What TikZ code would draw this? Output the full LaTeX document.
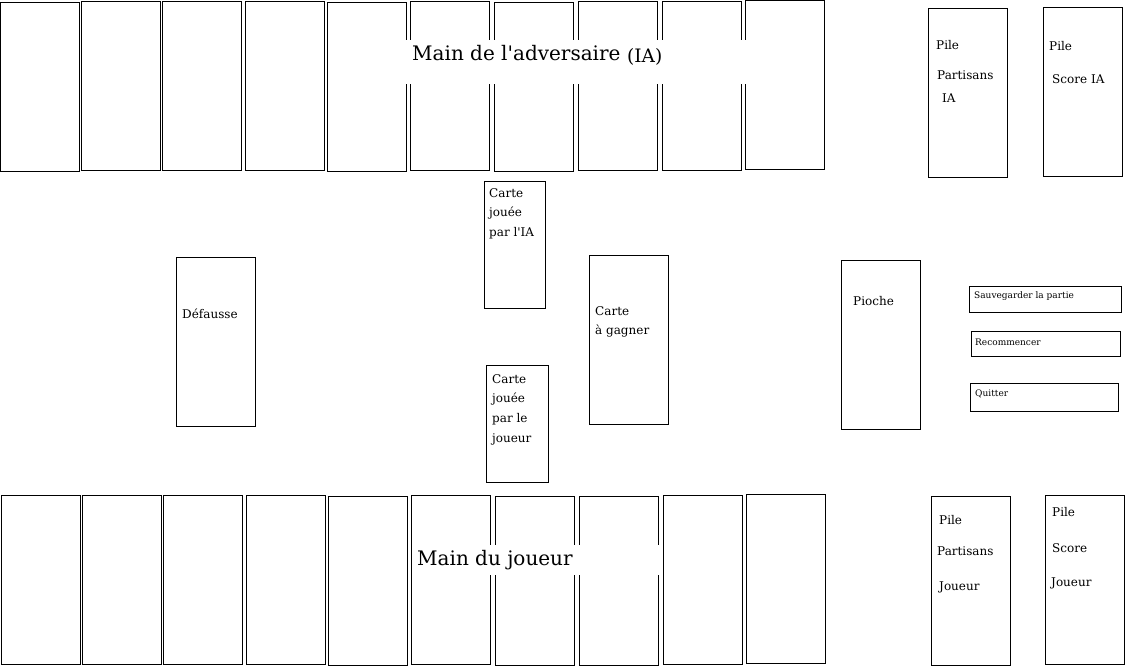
\documentclass[tikz,border=0pt]{standalone}
\usepackage{fontspec}
\setmainfont{DejaVu Serif}
\usetikzlibrary{positioning}

\tikzset{
  carte/.style={rectangle, draw, line width=0.8pt, minimum width=79pt, minimum height=169pt, inner sep=0pt, outer sep=0pt},
  bouton/.style={rectangle, draw, line width=0.8pt, inner sep=0pt, outer sep=0pt},
  etiq/.style={anchor=west, inner sep=0pt, font=\fontsize{12}{14}\selectfont},
  petit/.style={anchor=west, inner sep=0pt, font=\fontsize{9}{11}\selectfont},
  titre/.style={anchor=base west, inner sep=0pt, font=\fontsize{20}{24}\selectfont},
}

\begin{document}
\begin{tikzpicture}[x=1pt, y=-1pt]
\useasboundingbox[fill=white] (0,0) rectangle (1143,670);

% main de l'IA
\foreach \x/\y/\n in {0/2/1, 81/1/2, 162/1/3, 245/1/4, 327/2/5, 410/1/6, 494/2/7, 578/1.5/8, 662/1/9, 745/0/10}
  \node[carte] (haut\n) at (\x+39.5, \y+84.5) {};
% main du joueur
\foreach \x/\y/\n in {1/495/1, 82/495/2, 163/495/3, 246/495/4, 328/496/5, 411/495/6, 495/496/7, 579/496/8, 663/495/9, 746/494/10}
  \node[carte] (bas\n) at (\x+39.5, \y+84.5) {};

% titres
\node[fill=white, inner sep=0pt, minimum width=344pt, minimum height=44pt] (fondhaut) at (577,62) {};
\node[titre] (mainia) at (412,60) {Main de l\textquotesingle adversaire};
\node[titre, font=\fontsize{18.5}{22}\selectfont] (ia) at (627,62) {(IA)};
\node[fill=white, inner sep=0pt, minimum width=248pt, minimum height=30pt] (fondbas) at (537,560) {};
\node[titre] (mainjoueur) at (417,565) {Main du joueur};

% piles
\node[carte] (partisansia) at (967.5,92.5) {};
\node[etiq] (p1a) at (936,45.5) {Pile};
\node[etiq] (p1b) at (937,75.5) {Partisans};
\node[etiq] (p1c) at (942,98.5) {IA};
\node[carte] (scoreia) at (1082.5,91.5) {};
\node[etiq] (p2a) at (1049,46.5) {Pile};
\node[etiq] (p2b) at (1052,79.5) {Score IA};
\node[carte] (partisansj) at (970.5,580.5) {};
\node[etiq] (p3a) at (939,520.5) {Pile};
\node[etiq] (p3b) at (937,551.5) {Partisans};
\node[etiq] (p3c) at (939,587.5) {Joueur};
\node[carte] (scorej) at (1084.5,579.5) {};
\node[etiq] (p4a) at (1052,512.5) {Pile};
\node[etiq] (p4b) at (1052,548.5) {Score};
\node[etiq] (p4c) at (1051,583.5) {Joueur};

% centre
\node[carte] (defausse) at (215.5,341.5) {};
\node[etiq] (tdef) at (182,313.5) {Défausse};
\node[carte, minimum width=61pt, minimum height=127pt] (jia) at (514.5,244.5) {};
\node[etiq] (tj1) at (489,193.5) {Carte};
\node[etiq] (tj2) at (489,213.5) {jouée};
\node[etiq] (tj3) at (489,233.5) {par l\textquotesingle IA};
\node[carte] (agagner) at (628.5,339.5) {};
\node[etiq] (tg1) at (595,311.5) {Carte};
\node[etiq] (tg2) at (595,331.5) {à gagner};
\node[carte, minimum width=62pt, minimum height=117pt] (jjoueur) at (517,423.5) {};
\node[etiq] (tk1) at (492,379.5) {Carte};
\node[etiq] (tk2) at (492,399.5) {jouée};
\node[etiq] (tk3) at (492,419.5) {par le};
\node[etiq] (tk4) at (492,439.5) {joueur};
\node[carte] (pioche) at (880.5,344.5) {};
\node[etiq] (tpioche) at (853,301.5) {Pioche};

% boutons
\node[bouton, minimum width=152pt, minimum height=26pt] (sauver) at (1045,299) {};
\node[petit] (tsauver) at (974,296.5) {Sauvegarder la partie};
\node[bouton, minimum width=149pt, minimum height=25pt] (recommencer) at (1045.5,343.5) {};
\node[petit] (trecommencer) at (975,342.5) {Recommencer};
\node[bouton, minimum width=148pt, minimum height=28pt] (quitter) at (1044,397) {};
\node[petit] (tquitter) at (975,393.5) {Quitter};
\end{tikzpicture}
\end{document}
